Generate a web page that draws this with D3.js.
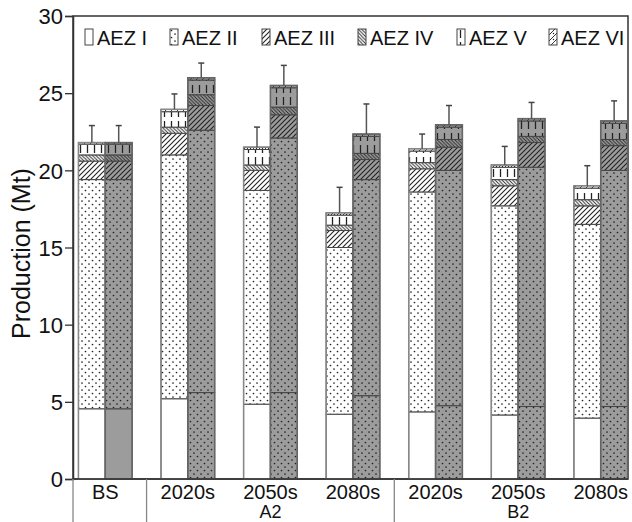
<!DOCTYPE html>
<html><head><meta charset="utf-8">
<script src="https://cdn.jsdelivr.net/npm/d3@7"></script>
<style>body{margin:0;background:#fff}svg{display:block}text{font-family:"Liberation Sans",Arial,sans-serif;fill:#111}</style>
</head><body><svg id="c" width="632" height="522"></svg>
<script>
// ---- data ----
const categories = ["BS","2020s","2050s","2080s","2020s","2050s","2080s"];
const scenarioLabels = ["A2","B2"];
const scenarioSpan = [[1,3],[4,6]];
const zones = ["AEZ I","AEZ II","AEZ III","AEZ IV","AEZ V","AEZ VI"];
const yTicks = [0,5,10,15,20,25,30];
// left bar (white) segments per zone
const leftI   = [4.55,5.2,4.85,4.2,4.35,4.15,3.95];
const leftII  = [14.85,15.8,13.85,10.8,14.25,13.55,12.55];
const leftIII = [1.2,1.4,1.3,1.1,1.5,1.3,1.2];
const leftIV  = [0.4,0.4,0.35,0.35,0.4,0.4,0.4];
const leftV   = [0.7,1.0,1.0,0.65,0.75,0.8,0.75];
const leftVI  = [0.1,0.15,0.15,0.15,0.15,0.15,0.15];
const leftErr = [1.1,1.0,1.3,1.65,0.95,1.2,1.3];
// right bar (grey) segments per zone
const rightI   = [4.55,5.6,5.6,5.4,4.75,4.7,4.7];
const rightII  = [14.85,17.0,16.5,14.0,15.25,15.5,15.3];
const rightIII = [1.2,1.6,1.5,1.3,1.5,1.6,1.6];
const rightIV  = [0.4,0.7,0.5,0.4,0.5,0.4,0.4];
const rightV   = [0.7,0.95,1.25,1.1,0.8,1.0,1.05];
const rightVI  = [0.1,0.15,0.15,0.15,0.15,0.15,0.15];
const rightErr = [1.1,0.95,1.3,1.95,1.25,1.05,1.3];

// ---- layout ----
const svg = d3.select("#c");
const L=73, R=628, T=16, B=479;
const y = d3.scaleLinear().domain([0,30]).range([B,T]);
const x = d3.scaleBand().domain(d3.range(categories.length)).range([64,642]).paddingInner(0.35).paddingOuter(0.175);
const bw = x.bandwidth()/2;

const defs = svg.append("defs");
const ink = "#222";
function pat(id,w,h,draw){const p=defs.append("pattern").attr("id",id).attr("patternUnits","userSpaceOnUse").attr("width",w).attr("height",h);draw(p);}
pat("pI",4,4,p=>{});
pat("pII",7,7,p=>{p.append("circle").attr("cx",1.5).attr("cy",1.5).attr("r",0.85).attr("fill",ink);p.append("circle").attr("cx",5).attr("cy",5).attr("r",0.85).attr("fill",ink);});
pat("pIII",5,5,p=>{p.append("path").attr("d","M0,5L5,0M-1,1L1,-1M4,6L6,4").attr("stroke",ink).attr("stroke-width",1.1);});
pat("pIV",3.5,3.5,p=>{p.append("path").attr("d","M0,0L3.5,3.5M-1,2.5L1,4.5M2.5,-1L4.5,1").attr("stroke",ink).attr("stroke-width",0.9);});
pat("pV",7,12,p=>{p.append("path").attr("d","M3.5,1V9").attr("stroke",ink).attr("stroke-width",1.3);});
pat("pVI",6,6,p=>{p.append("path").attr("d","M0,6L6,0").attr("stroke",ink).attr("stroke-width",0.9);p.append("circle").attr("cx",4.5).attr("cy",4.5).attr("r",0.7).attr("fill",ink);});
const patIds = ["pI","pII","pIII","pIV","pV","pVI"];

const leftSeries = [leftI,leftII,leftIII,leftIV,leftV,leftVI];
const rightSeries = [rightI,rightII,rightIII,rightIV,rightV,rightVI];

// frame
svg.append("rect").attr("x",L).attr("y",T).attr("width",R-L).attr("height",B-T).attr("fill","none").attr("stroke","#333").attr("stroke-width",1.5);

function drawBars(series, err, side, base){
  const rows = categories.map((c,i)=>{const o={i};series.forEach((s,k)=>o["z"+k]=s[i]);return o;});
  const stack = d3.stack().keys(zones.map((z,k)=>"z"+k))(rows);
  const g = svg.append("g");
  stack.forEach((layer,k)=>{
    layer.forEach(d=>{
      const i=d.data.i, x0=x(i)+side*bw, y0=y(d[1]), h=y(d[0])-y(d[1]);
      const pid = (side===1 && k===0 && i>0) ? "pII" : patIds[k];
      g.append("rect").attr("x",x0).attr("y",y0).attr("width",bw).attr("height",h).attr("fill",base);
      g.append("rect").attr("x",x0).attr("y",y0).attr("width",bw).attr("height",h).attr("fill","url(#"+pid+")").attr("stroke","#444").attr("stroke-width",1);
    });
  });
  const top = stack[stack.length-1];
  top.forEach(d=>{
    const i=d.data.i, x0=x(i)+side*bw;
    g.append("rect").attr("x",x0).attr("y",y(d[1])).attr("width",bw).attr("height",y(0)-y(d[1])).attr("fill","none").attr("stroke",side?"#666":"#888").attr("stroke-width",1.5);
    const cx=x0+bw/2;
    g.append("line").attr("x1",cx).attr("x2",cx).attr("y1",y(d[1])).attr("y2",y(d[1]+err[i])).attr("stroke","#555").attr("stroke-width",1.5);
    g.append("line").attr("x1",cx-3).attr("x2",cx+3).attr("y1",y(d[1]+err[i])).attr("y2",y(d[1]+err[i])).attr("stroke","#444").attr("stroke-width",1.5);
  });
}
drawBars(leftSeries,leftErr,0,"#fff");
drawBars(rightSeries,rightErr,1,"#9c9c9c");

// y axis
const ya = svg.append("g").attr("transform",`translate(${L},0)`).call(d3.axisLeft(y).tickValues(yTicks).tickSize(8).tickPadding(2));
ya.select(".domain").attr("stroke","#333").attr("stroke-width",1.5);
ya.selectAll(".tick line").attr("stroke","#333").attr("stroke-width",1.3);
ya.selectAll(".tick text").attr("font-size",22).attr("font-family","Liberation Sans, Arial, sans-serif").attr("fill","#111").attr("dy","0.35em");
svg.append("text").attr("transform",`translate(30,${(T+B)/2+6}) rotate(-90)`).attr("text-anchor","middle").attr("font-size",25).text("Production (Mt)");

// bottom axis line and separators
svg.append("line").attr("x1",L).attr("x2",R).attr("y1",B).attr("y2",B).attr("stroke","#333").attr("stroke-width",1.5);
const seps=[0,1,4].map(i=> i===0 ? L : (x(i-1)+x.bandwidth()/2 + x(i)+x.bandwidth()/2)/2);
svg.selectAll(".sep").data(seps).enter().append("line").attr("x1",d=>d).attr("x2",d=>d).attr("y1",B).attr("y2",522).attr("stroke","#888").attr("stroke-width",1.3);
svg.selectAll(".cat").data(categories).enter().append("text").attr("x",(d,i)=>x(i)+x.bandwidth()/2).attr("y",499).attr("text-anchor","middle").attr("font-size",20).text(d=>d);
svg.selectAll(".scn").data(scenarioLabels).enter().append("text").attr("x",(d,i)=>(x(scenarioSpan[i][0])+x(scenarioSpan[i][1])+x.bandwidth())/2).attr("y",518).attr("text-anchor","middle").attr("font-size",18).text(d=>d);

// legend
const legX=[85,170,262,358,457,549];
const lg = svg.selectAll(".leg").data(zones).enter().append("g").attr("transform",(d,i)=>`translate(${legX[i]},29)`);
lg.append("rect").attr("width",8).attr("height",16).attr("fill","#fff");
lg.append("rect").attr("width",8).attr("height",16).attr("fill",(d,i)=>"url(#"+patIds[i]+")").attr("stroke","#444").attr("stroke-width",1);
lg.append("text").attr("x",12).attr("y",16).attr("font-size",20).text(d=>d);
</script></body></html>
